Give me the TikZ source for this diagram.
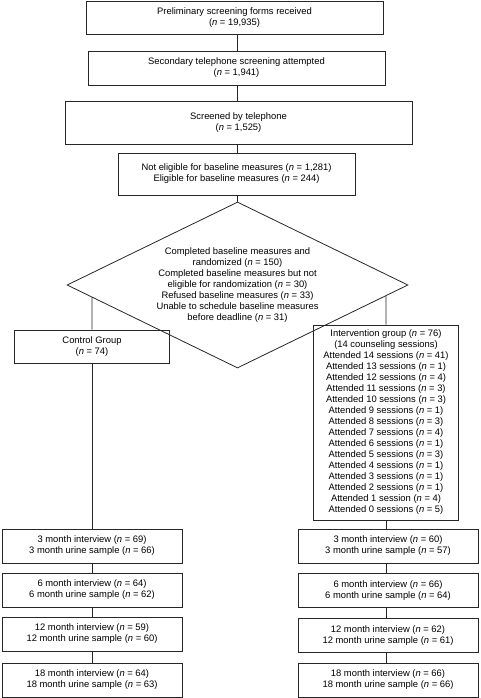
\documentclass[tikz,border=0pt]{standalone}
\usepackage{fontspec}
\setmainfont{Liberation Sans}
\usetikzlibrary{shapes.geometric}

\def\nn{\textit{n}}

\tikzset{
    box/.style={draw=black!85, line width=0.8pt, align=center, inner sep=1pt,
        font=\fontsize{9.4pt}{11pt}\selectfont},
    choice/.style={box, diamond, inner sep=0pt, aspect=2.05},
    link/.style={draw=black!85, line width=0.8pt}
}

\begin{document}
\begin{tikzpicture}[x=1pt, y=-1pt]
    \useasboundingbox (0,0) rectangle (480,698);

    %% Screening stages
    \draw (234.5,17.5) node [box, minimum width=297pt, minimum height=33pt] (prelim) {Preliminary screening forms received\\(\nn{} = 19,935)};
    \draw (236.5,68) node [box, minimum width=297pt, minimum height=34pt] (second) {Secondary telephone screening attempted\\(\nn{} = 1,941)};
    \draw (238.5,122.5) node [box, minimum width=347pt, minimum height=43pt] (phone) {Screened by telephone\\(\nn{} = 1,525)};
    \draw (236.5,174) node [box, minimum width=237pt, minimum height=42pt] (elig) {Not eligible for baseline measures (\nn{} = 1,281)\\Eligible for baseline measures (\nn{} = 244)};

    %% Baseline measures
    \draw (237.5,285) node [choice, minimum width=341pt, minimum height=166pt] (baseline) {Completed baseline measures and\\randomized (\nn{} = 150)\\Completed baseline measures but not\\eligible for randomization (\nn{} = 30)\\Refused baseline measures (\nn{} = 33)\\Unable to schedule baseline measures\\before deadline (\nn{} = 31)};

    %% The two arms
    \draw (92,346.5) node [box, minimum width=155pt, minimum height=33pt] (control) {Control Group\\(\nn{} = 74)};
    \draw (386,422.5) node [box, minimum width=145pt, minimum height=195pt] (interv) {Intervention group (\nn{} = 76)\\(14 counseling sessions)\\Attended 14 sessions (\nn{} = 41)\\Attended 13 sessions (\nn{} = 1)\\Attended 12 sessions (\nn{} = 4)\\Attended 11 sessions (\nn{} = 3)\\Attended 10 sessions (\nn{} = 3)\\Attended 9 sessions (\nn{} = 1)\\Attended 8 sessions (\nn{} = 3)\\Attended 7 sessions (\nn{} = 4)\\Attended 6 sessions (\nn{} = 1)\\Attended 5 sessions (\nn{} = 3)\\Attended 4 sessions (\nn{} = 1)\\Attended 3 sessions (\nn{} = 1)\\Attended 2 sessions (\nn{} = 1)\\Attended 1 session (\nn{} = 4)\\Attended 0 sessions (\nn{} = 5)};

    %% Follow-up, control arm
    \draw (92,546) node [box, minimum width=180pt, minimum height=34pt] (cthree) {3 month interview (\nn{} = 69)\\3 month urine sample (\nn{} = 66)};
    \draw (92,590) node [box, minimum width=180pt, minimum height=34pt] (csix) {6 month interview (\nn{} = 64)\\6 month urine sample (\nn{} = 62)};
    \draw (92,634) node [box, minimum width=180pt, minimum height=34pt] (ctwelve) {12 month interview (\nn{} = 59)\\12 month urine sample (\nn{} = 60)};
    \draw (92,680) node [box, minimum width=180pt, minimum height=34pt] (ceighteen) {18 month interview (\nn{} = 64)\\18 month urine sample (\nn{} = 63)};

    %% Follow-up, intervention arm
    \draw (388,546) node [box, minimum width=180pt, minimum height=34pt] (ithree) {3 month interview (\nn{} = 60)\\3 month urine sample (\nn{} = 57)};
    \draw (388,590.5) node [box, minimum width=180pt, minimum height=34pt] (isix) {6 month interview (\nn{} = 66)\\6 month urine sample (\nn{} = 64)};
    \draw (388,635.5) node [box, minimum width=180pt, minimum height=34pt] (itwelve) {12 month interview (\nn{} = 62)\\12 month urine sample (\nn{} = 61)};
    \draw (388,680) node [box, minimum width=180pt, minimum height=34pt] (ieighteen) {18 month interview (\nn{} = 66)\\18 month urine sample (\nn{} = 66)};

    %% Connecting lines
    \path [link] (baseline.north |- prelim.south) edge (baseline.north |- second.north);
    \path [link] (baseline.north |- second.south) edge (baseline.north |- phone.north);
    \path [link] (baseline.north |- phone.south) edge (baseline.north |- elig.north);
    \path [link] (baseline.north |- elig.south) edge (baseline.north);

    \path [link] (intersection of baseline.west--baseline.south and control.north--control.center) edge (control.north);
    \path [link] (intersection of baseline.east--baseline.south and interv.north--interv.center) edge (interv.north);

    \path [link] (cthree.north |- control.south) edge (cthree.north);
    \path [link] (csix.north |- cthree.south) edge (csix.north);
    \path [link] (ctwelve.north |- csix.south) edge (ctwelve.north);
    \path [link] (ceighteen.north |- ctwelve.south) edge (ceighteen.north);

    \path [link] (interv.south) edge (interv.south |- ithree.north);
    \path [link] (interv.south |- ithree.south) edge (interv.south |- isix.north);
    \path [link] (interv.south |- isix.south) edge (interv.south |- itwelve.north);
    \path [link] (interv.south |- itwelve.south) edge (interv.south |- ieighteen.north);
\end{tikzpicture}
\end{document}
